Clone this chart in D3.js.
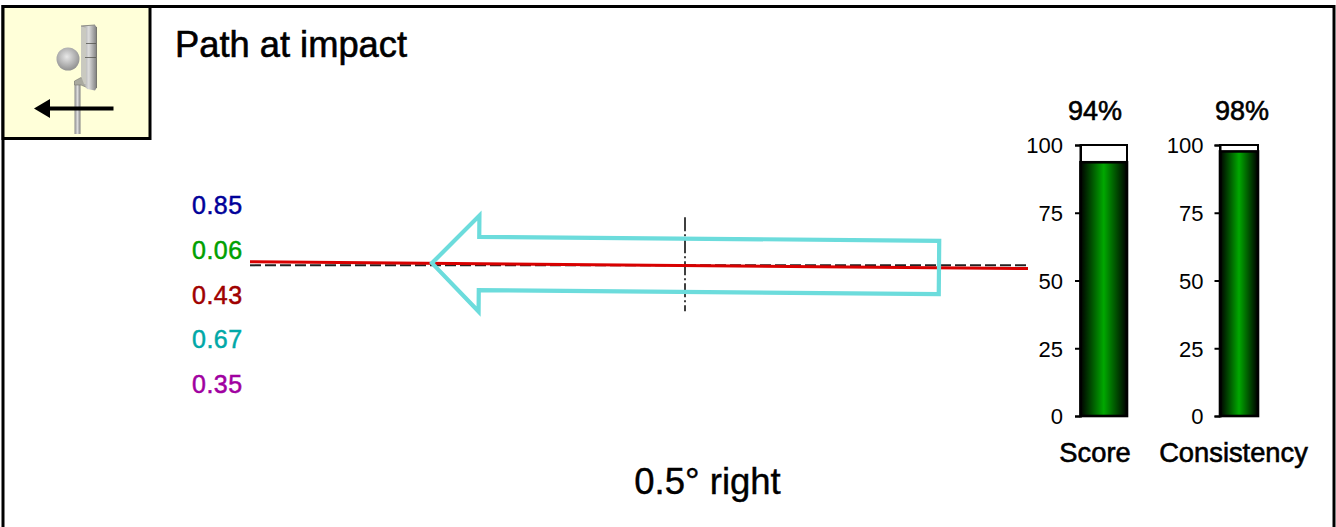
<!DOCTYPE html>
<html><head><meta charset="utf-8">
<script src="https://cdn.jsdelivr.net/npm/d3@7"></script>
<style>html,body{margin:0;padding:0;background:#fff;overflow:hidden}svg{display:block}text{font-family:"Liberation Sans",Arial,sans-serif;fill:#000}</style>
</head><body><svg id="c" width="1336" height="527"></svg>
<script>
const titleText = "Path at impact";
const resultText = "0.5° right";
const pathAngleDeg = 0.5;
const readingValues = ["0.85","0.06","0.43","0.67","0.35"];
const readingColors = ["#000099","#00a000","#a00000","#00a8a8","#a000a0"];
const barNames = ["Score","Consistency"];
const barValues = [94,98];
const barLabels = ["94%","98%"];
const barTicks = [0,25,50,75,100];
const lineExtent = [-435,343];
const crossExtent = [-46,48];
const arrowShape = [[-253,0],[-206,48],[-206,26.7],[254,26.7],[254,-26.7],[-206,-26.7],[-206,-48]];

const svg = d3.select("#c");
const defs = svg.append("defs");
const g = defs.append("linearGradient").attr("id","barG").attr("x1",0).attr("x2",1).attr("y1",0).attr("y2",0);
g.append("stop").attr("offset",0).attr("stop-color","#000");
g.append("stop").attr("offset",0.5).attr("stop-color","#00a800");
g.append("stop").attr("offset",1).attr("stop-color","#000");
const rg = defs.append("radialGradient").attr("id","ballG").attr("cx",0.45).attr("cy",0.4).attr("r",0.65);
rg.append("stop").attr("offset",0).attr("stop-color","#e8e8e8");
rg.append("stop").attr("offset",1).attr("stop-color","#8a8a8a");
const sg = defs.append("linearGradient").attr("id","steelG").attr("x1",0).attr("x2",1).attr("y1",0).attr("y2",0);
sg.append("stop").attr("offset",0).attr("stop-color","#8a8a8a");
sg.append("stop").attr("offset",0.5).attr("stop-color","#dcdcdc");
sg.append("stop").attr("offset",1).attr("stop-color","#808080");

// frame and icon
svg.append("rect").attr("x",3).attr("y",6.5).attr("width",1331).attr("height",530).attr("fill","#fff").attr("stroke","#000").attr("stroke-width",3);
svg.append("rect").attr("x",3).attr("y",6.5).attr("width",147).attr("height",132).attr("fill","#ffffd9").attr("stroke","#000").attr("stroke-width",3);
const icon = svg.append("g");
icon.append("rect").attr("x",74.5).attr("y",81).attr("width",6).attr("height",53).attr("fill","url(#steelG)");
icon.append("path").attr("d","M74.5,81L81,77.5L87,80L88,88L81,85H74.5Z").attr("fill","#a9a99f").attr("stroke","#77776f").attr("stroke-width",0.6);
icon.append("path").attr("d","M81,26L95,25L96.5,27V88L95,90.5L87,89L84,84V40Z").attr("fill","url(#steelG)");
icon.append("path").attr("d","M81,26L86,28V84L84,84L81,76Z").attr("fill","#c9c9c0");
icon.append("path").attr("d","M81,26L95,25").attr("stroke","#8d8d86").attr("stroke-width",1).attr("fill","none");
icon.append("path").attr("d","M86,43.5H96M85,57.5H96").attr("stroke","#55554f").attr("stroke-width",0.8).attr("fill","none");
icon.append("path").attr("d","M96.5,27V88").attr("stroke","#77776f").attr("stroke-width",1).attr("fill","none");
icon.append("circle").attr("cx",68).attr("cy",59).attr("r",11.5).attr("fill","url(#ballG)");
icon.append("line").attr("x1",46).attr("x2",113.5).attr("y1",108.5).attr("y2",108.5).attr("stroke","#000").attr("stroke-width",4);
icon.append("path").attr("d","M34,108.5L50,99V118Z").attr("fill","#000");

svg.append("text").attr("x",175).attr("y",57).attr("font-size",36.3).attr("stroke","#000").attr("stroke-width",0.6).text(titleText);

// readings
const yRead = d3.scalePoint().domain(readingValues).range([214,393]);
svg.append("g").selectAll("text").data(readingValues).join("text")
  .attr("x",192).attr("y",d=>yRead(d)).attr("font-size",25).attr("letter-spacing",0.5)
  .style("fill",(d,i)=>readingColors[i]).attr("stroke",(d,i)=>readingColors[i]).attr("stroke-width",0.5).text(d=>d);

// path plot
const x = d3.scaleLinear().domain(lineExtent).range([250,1028]);
const y = d3.scaleLinear().domain([-100,100]).range([365.3,165.3]);
const slope = Math.tan(pathAngleDeg*Math.PI/180);
const line = d3.line().x(d=>x(d[0])).y(d=>y(d[1]));
const rot = p=>{const a=-pathAngleDeg*Math.PI/180;return [p[0]*Math.cos(a)-p[1]*Math.sin(a),p[0]*Math.sin(a)+p[1]*Math.cos(a)];};

svg.append("path").attr("fill","none").attr("stroke","#000").attr("stroke-width",1.5).attr("stroke-dasharray","14 3 2 3")
  .attr("d",line([[0,crossExtent[1]],[0,crossExtent[0]]]));
svg.append("path").attr("fill","none").attr("stroke","#222").attr("stroke-width",2).attr("stroke-dasharray","11 4")
  .attr("d",line(lineExtent.map(v=>[v,0])));
svg.append("path").attr("fill","none").attr("stroke","#d80000").attr("stroke-width",3)
  .attr("d",line(lineExtent.map(v=>[v,-v*slope-0.2])));
svg.append("path").attr("fill","none").attr("stroke","#6cdcdc").attr("stroke-width",4.2).attr("stroke-miterlimit",10)
  .attr("d",line(arrowShape.map(rot))+"Z");

// bars
const yBar = d3.scaleLinear().domain([0,100]).range([416,145]);
const barX = [[1080.5,1127],[1220,1258]];
const labelCx = [1095,1242];
const nameCx = [1095,1233.5];
const tickPad = [12,11];
barNames.forEach((name,i)=>{
  const [a,b]=barX[i];
  svg.append("rect").attr("x",a).attr("y",yBar(100)).attr("width",b-a).attr("height",yBar(0)-yBar(100)).attr("fill","#fff").attr("stroke","#000").attr("stroke-width",2);
  const top = yBar(barValues[i]) + 1;
  svg.append("rect").attr("x",a).attr("y",top).attr("width",b-a).attr("height",yBar(0)-top).attr("fill","url(#barG)").attr("stroke","#000").attr("stroke-width",2.6);
  const ax = svg.append("g").attr("transform",`translate(${a},0)`).call(d3.axisLeft(yBar).tickValues(barTicks).tickSize(5.5).tickPadding(tickPad[i]));
  ax.select(".domain").attr("stroke","#000").attr("stroke-width",2);
  ax.selectAll(".tick line").attr("stroke","#000").attr("stroke-width",2);
  ax.selectAll(".tick text").attr("font-size",22).attr("dy","0.36em").style("font-family",'"Liberation Sans",Arial,sans-serif').attr("fill","#111");
  svg.append("text").attr("x",labelCx[i]).attr("y",120).attr("text-anchor","middle").attr("font-size",27).attr("stroke","#000").attr("stroke-width",0.6).text(barLabels[i]);
  svg.append("text").attr("x",nameCx[i]).attr("y",461.5).attr("text-anchor","middle").attr("font-size",27.3).attr("stroke","#000").attr("stroke-width",0.6).text(name);
});

svg.append("text").attr("x",707.5).attr("y",493.5).attr("text-anchor","middle").attr("font-size",36.5).attr("stroke","#000").attr("stroke-width",0.4).text(resultText);
</script></body></html>
